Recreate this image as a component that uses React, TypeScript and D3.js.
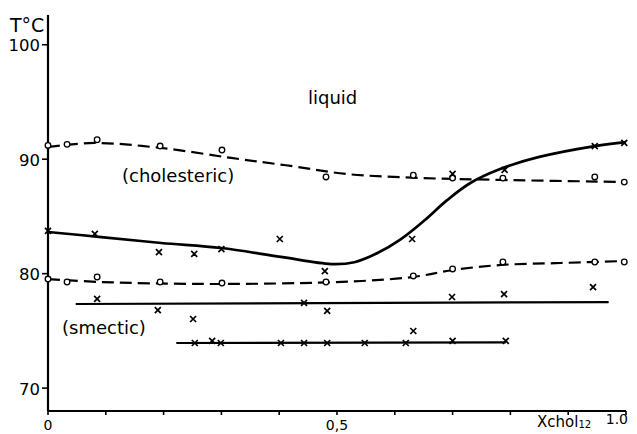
import React, { useEffect, useRef } from 'react';
import * as d3 from 'd3';

const W = 637;
const H = 434;

// open circles: cholesteric -> liquid
const clearX = [0, 0.033, 0.085, 0.194, 0.301, 0.481, 0.632, 0.70, 0.787, 0.946, 0.997];
const clearT = [91.2, 91.3, 91.7, 91.15, 90.8, 88.45, 88.6, 88.35, 88.35, 88.45, 88.0];
// dashed fit through them
const clearFitX = [0, 0.08, 0.196, 0.317, 0.42, 0.516, 0.645, 0.784, 1.0];
const clearFitT = [91.07, 91.42, 90.98, 90.11, 89.41, 88.71, 88.36, 88.19, 88.01];

// open circles: smectic -> cholesteric
const smX = [0, 0.033, 0.085, 0.194, 0.301, 0.481, 0.632, 0.70, 0.787, 0.946, 0.997];
const smT = [79.53, 79.27, 79.71, 79.27, 79.18, 79.27, 79.8, 80.41, 81.02, 81.02, 81.02];
const smFitX = [0, 0.092, 0.265, 0.438, 0.542, 0.632, 0.701, 0.784, 0.887, 1.0];
const smFitT = [79.53, 79.27, 79.1, 79.18, 79.36, 79.71, 80.32, 80.76, 80.93, 81.11];

// crosses, upper branch and its solid curve
const upX = [0, 0.081, 0.192, 0.253, 0.3, 0.401, 0.479, 0.63, 0.7, 0.79, 0.946, 0.997];
const upT = [83.73, 83.47, 81.89, 81.72, 82.15, 83.03, 80.23, 83.03, 88.71, 89.06, 91.15, 91.42];
const upFitX = [0, 0.092, 0.196, 0.3, 0.403, 0.49, 0.53, 0.57, 0.61, 0.65, 0.69, 0.73, 0.78, 0.85, 0.946, 1.0];
const upFitT = [83.64, 83.2, 82.68, 82.24, 81.46, 80.84, 81.0, 81.8, 83.0, 84.6, 86.4, 87.9, 89.1, 90.2, 91.15, 91.5];

// crosses below the smectic boundary
const lowX = [0.085, 0.19, 0.251, 0.443, 0.483, 0.632, 0.699, 0.789, 0.943];
const lowT = [77.79, 76.82, 76.04, 77.44, 76.74, 74.99, 77.96, 78.22, 78.83];
const lowLineX = [0.048, 0.97];
const lowLineT = [77.35, 77.52];

// crosses on the 74 degree line
const baseX = [0.254, 0.284, 0.299, 0.403, 0.443, 0.483, 0.548, 0.619, 0.7, 0.792];
const baseT = [73.94, 74.12, 73.94, 73.94, 73.94, 73.94, 73.94, 73.94, 74.12, 74.12];
const baseLineX = [0.222, 0.792];
const baseLineT = [73.94, 74.0];

const yTicks = [70, 80, 90, 100];
const xTicks = d3.range(0, 11).map(i => i / 10);

const FONT = '"DejaVu Sans", sans-serif';

export default function App() {
  const ref = useRef<SVGSVGElement>(null);

  useEffect(() => {
    const svg = d3.select(ref.current);
    svg.selectAll('*').remove();

    const x = d3.scaleLinear().domain([0, 1]).range([48, 626]);
    const y = d3.scaleLinear().domain([68, 102.6]).range([411, 15]);

    const zip = (xs: number[], ts: number[]) => xs.map((v, i) => [v, ts[i]] as [number, number]);
    const line = d3.line<[number, number]>()
      .x(d => x(d[0]))
      .y(d => y(d[1]))
      .curve(d3.curveCatmullRom.alpha(0.5));

    // axes
    const ax = svg.append('g').attr('stroke', '#000').attr('fill', 'none');
    ax.append('line').attr('x1', x(0)).attr('x2', x(0)).attr('y1', y(102.6)).attr('y2', y(68)).attr('stroke-width', 2.2);
    ax.append('line').attr('x1', x(0)).attr('x2', x(1)).attr('y1', y(68)).attr('y2', y(68)).attr('stroke-width', 2.2);
    yTicks.forEach(t => {
      ax.append('line').attr('x1', x(0) - 6).attr('x2', x(0)).attr('y1', y(t)).attr('y2', y(t)).attr('stroke-width', 1.6);
    });
    xTicks.forEach(t => {
      ax.append('line').attr('x1', x(t)).attr('x2', x(t)).attr('y1', y(68)).attr('y2', y(68) + 4).attr('stroke-width', 1.6);
    });

    const txt = svg.append('g').attr('font-family', FONT).attr('fill', '#000');
    yTicks.forEach(t => {
      txt.append('text').attr('x', 40).attr('y', y(t) + 6.5).attr('text-anchor', 'end')
        .attr('font-size', 16.5).text(String(t));
    });
    txt.append('text').attr('x', x(0)).attr('y', 430).attr('text-anchor', 'middle').attr('font-size', 14).text('0');
    txt.append('text').attr('x', x(0.5)).attr('y', 430).attr('text-anchor', 'middle').attr('font-size', 14).text('0,5');
    txt.append('text').attr('x', 628).attr('y', 424).attr('text-anchor', 'end').attr('font-size', 14).text('1.0');
    const xl = txt.append('text').attr('x', 537).attr('y', 427).attr('font-size', 15);
    xl.append('tspan').text('Xchol');
    xl.append('tspan').attr('font-size', 10).attr('dy', 1).text('12');
    txt.append('text').attr('x', 10).attr('y', 32).attr('font-size', 19).text('T°C');

    txt.append('text').attr('x', 308).attr('y', 104).attr('font-size', 18).text('liquid');
    txt.append('text').attr('x', 122).attr('y', 182).attr('font-size', 18).text('(cholesteric)');
    txt.append('text').attr('x', 62).attr('y', 333.5).attr('font-size', 18).text('(smectic)');

    // curves
    const curves = svg.append('g').attr('fill', 'none').attr('stroke', '#000');
    curves.append('path').attr('d', line(zip(clearFitX, clearFitT))).attr('stroke-width', 2.2).attr('stroke-dasharray', '12,6');
    curves.append('path').attr('d', line(zip(smFitX, smFitT))).attr('stroke-width', 2.2).attr('stroke-dasharray', '12,6');
    curves.append('path').attr('d', line(zip(upFitX, upFitT))).attr('stroke-width', 2.7);
    curves.append('path').attr('d', line(zip(lowLineX, lowLineT))).attr('stroke-width', 2.2);
    curves.append('path').attr('d', line(zip(baseLineX, baseLineT))).attr('stroke-width', 2.2);

    // markers
    const circ = svg.append('g').attr('fill', '#fff').attr('stroke', '#000').attr('stroke-width', 1.3);
    zip(clearX, clearT).concat(zip(smX, smT)).forEach(d => {
      circ.append('circle').attr('cx', x(d[0])).attr('cy', y(d[1])).attr('r', 2.8);
    });
    const cross = svg.append('g').attr('stroke', '#000').attr('stroke-width', 1.7).attr('fill', 'none');
    zip(upX, upT).concat(zip(lowX, lowT), zip(baseX, baseT)).forEach(d => {
      cross.append('path')
        .attr('transform', `translate(${x(d[0])},${y(d[1])})`)
        .attr('d', 'M-3,-3L3,3M3,-3L-3,3');
    });
  }, []);

  return (
    <svg ref={ref} width={W} height={H}
      style={{ position: 'absolute', left: 0, top: 0, background: '#fff' }} />
  );
}
